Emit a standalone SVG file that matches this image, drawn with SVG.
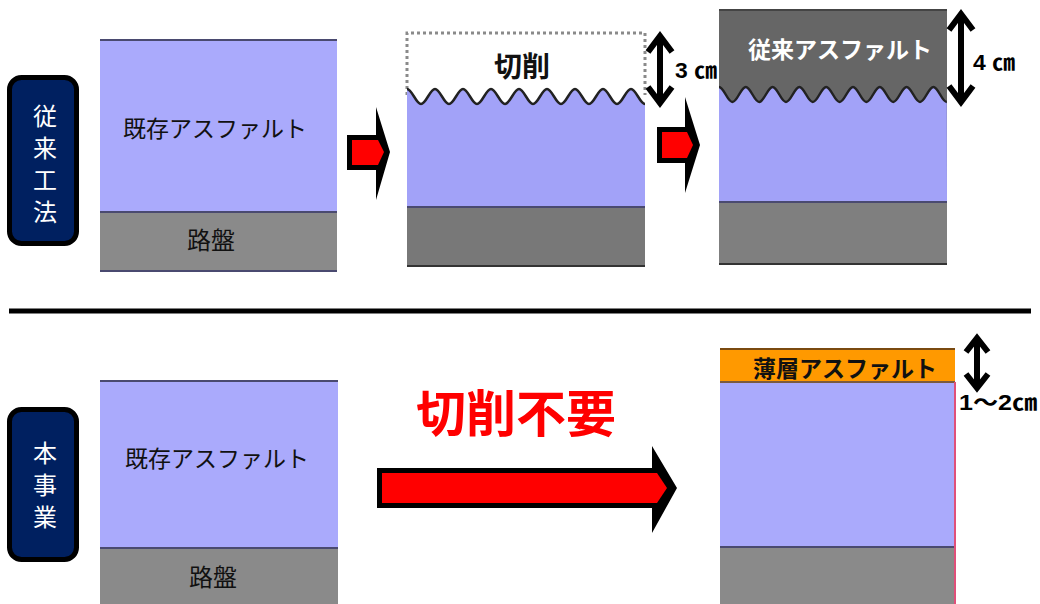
<svg xmlns="http://www.w3.org/2000/svg" width="1040" height="604" viewBox="0 0 1040 604">
<style>
.jp{font-family:"Noto Sans CJK JP","Noto Sans CJK SC",sans-serif}
.lbl{fill:#002060;stroke:#000;stroke-width:5}
.lt{fill:#fff;font-size:24px;text-anchor:middle;writing-mode:vertical-rl;letter-spacing:8px}
.asp{fill:#aaaafc}
.base{fill:#8a8a8a}
.edge{stroke:#4a4a70;stroke-width:2;fill:none}
.t1{font-size:23px;fill:#111;text-anchor:middle;dominant-baseline:central}
.b{font-weight:bold}
.wave{fill:none;stroke:#222;stroke-width:2.5}
.dbl{fill:none;stroke:#000;stroke-width:6;stroke-linejoin:miter}
.dim{font-family:"Liberation Sans","Noto Sans CJK JP",sans-serif;font-weight:bold;font-size:22px;dominant-baseline:central}
</style>
<rect width="1040" height="604" fill="#fff"/>

<g id="label-conventional">
<rect class="lbl" x="9.5" y="77.5" width="67" height="166" rx="12"/>
<text class="jp lt" x="45" y="168">従来工法</text>
</g>

<g id="block-existing-top">
<rect class="asp" x="100" y="39" width="237" height="173"/>
<rect class="base" x="100" y="212" width="237" height="60"/>
<line class="edge" x1="100" y1="40" x2="337" y2="40"/>
<line class="edge" x1="100" y1="212" x2="337" y2="212"/>
<line class="edge" x1="100" y1="271" x2="337" y2="271"/>
<text class="jp t1" x="215" y="127">既存アスファルト</text>
<text class="jp t1" x="211" y="238" style="font-size:24px">路盤</text>
</g>

<g id="block-cut">
<path d="M407,95 L407,33 L645,33 L645,95" fill="#fff" stroke="#8a8a8a" stroke-width="3" stroke-dasharray="3 3"/>
<path fill="#a2a2f8" d="M407,89 c5,0 9,15 14,15 c5,0 9,-15 14,-15 c5,0 9,15 14,15 c5,0 9,-15 14,-15 c5,0 9,15 14,15 c5,0 9,-15 14,-15 c5,0 9,15 14,15 c5,0 9,-15 14,-15 c5,0 9,15 14,15 c5,0 9,-15 14,-15 c5,0 9,15 14,15 c5,0 9,-15 14,-15 c5,0 9,15 14,15 c5,0 9,-15 14,-15 c5,0 9,15 14,15 c5,0 9,-15 14,-15 c5,0 9,15 14,15 L645,207 L407,207 Z"/>
<path class="wave" d="M407,89 c5,0 9,15 14,15 c5,0 9,-15 14,-15 c5,0 9,15 14,15 c5,0 9,-15 14,-15 c5,0 9,15 14,15 c5,0 9,-15 14,-15 c5,0 9,15 14,15 c5,0 9,-15 14,-15 c5,0 9,15 14,15 c5,0 9,-15 14,-15 c5,0 9,15 14,15 c5,0 9,-15 14,-15 c5,0 9,15 14,15 c5,0 9,-15 14,-15 c5,0 9,15 14,15 c5,0 9,-15 14,-15 c5,0 9,15 14,15"/>
<rect x="407" y="207" width="238" height="60" fill="#787878"/>
<line class="edge" x1="407" y1="207" x2="645" y2="207"/>
<line x1="407" y1="266" x2="645" y2="266" stroke="#333" stroke-width="2"/>
<text class="jp t1 b" x="522" y="65" style="font-size:28px">切削</text>
</g>

<g id="block-conventional">
<rect x="719" y="9" width="228" height="256" fill="#666"/>
<path fill="#a2a2f8" d="M719,87 c4.8,0 8.6,15 13.4,15 c4.8,0 8.6,-15 13.4,-15 c4.8,0 8.6,15 13.4,15 c4.8,0 8.6,-15 13.4,-15 c4.8,0 8.6,15 13.4,15 c4.8,0 8.6,-15 13.4,-15 c4.8,0 8.6,15 13.4,15 c4.8,0 8.6,-15 13.4,-15 c4.8,0 8.6,15 13.4,15 c4.8,0 8.6,-15 13.4,-15 c4.8,0 8.6,15 13.4,15 c4.8,0 8.6,-15 13.4,-15 c4.8,0 8.6,15 13.4,15 c4.8,0 8.6,-15 13.4,-15 c4.8,0 8.6,15 13.4,15 c4.8,0 8.6,-15 13.4,-15 c4.8,0 8.6,15 13.4,15 L947,202 L719,202 Z"/>
<path class="wave" d="M719,87 c4.8,0 8.6,15 13.4,15 c4.8,0 8.6,-15 13.4,-15 c4.8,0 8.6,15 13.4,15 c4.8,0 8.6,-15 13.4,-15 c4.8,0 8.6,15 13.4,15 c4.8,0 8.6,-15 13.4,-15 c4.8,0 8.6,15 13.4,15 c4.8,0 8.6,-15 13.4,-15 c4.8,0 8.6,15 13.4,15 c4.8,0 8.6,-15 13.4,-15 c4.8,0 8.6,15 13.4,15 c4.8,0 8.6,-15 13.4,-15 c4.8,0 8.6,15 13.4,15 c4.8,0 8.6,-15 13.4,-15 c4.8,0 8.6,15 13.4,15 c4.8,0 8.6,-15 13.4,-15 c4.8,0 8.6,15 13.4,15"/>
<rect x="719" y="202" width="228" height="63" fill="#7f7f7f"/>
<line class="edge" x1="719" y1="202" x2="947" y2="202"/>
<line x1="719" y1="10" x2="947" y2="10" stroke="#444" stroke-width="2"/>
<line x1="719" y1="264" x2="947" y2="264" stroke="#333" stroke-width="2"/>
<text class="jp t1 b" x="840" y="48" style="fill:#fff">従来アスファルト</text>
</g>

<line id="divider" x1="9" y1="311" x2="1031" y2="311" stroke="#000" stroke-width="5"/>

<g id="label-project">
<rect class="lbl" x="9.5" y="409.5" width="67" height="150" rx="12"/>
<text class="jp lt" x="45" y="489">本事業</text>
</g>

<g id="block-existing-bottom">
<rect class="asp" x="100" y="380" width="238" height="168"/>
<rect class="base" x="100" y="548" width="238" height="56"/>
<line class="edge" x1="100" y1="381" x2="338" y2="381"/>
<line class="edge" x1="100" y1="548" x2="338" y2="548"/>
<text class="jp t1" x="217" y="457">既存アスファルト</text>
<text class="jp t1" x="213" y="575" style="font-size:24px">路盤</text>
</g>

<g id="block-thin">
<rect x="720" y="348" width="235" height="34" fill="#ff9900"/>
<rect class="asp" x="720" y="382" width="235" height="165"/>
<rect class="base" x="720" y="547" width="235" height="57"/>
<line x1="720" y1="349" x2="955" y2="349" stroke="#7a4a10" stroke-width="2"/>
<line x1="720" y1="382" x2="955" y2="382" stroke="#7a5a40" stroke-width="2"/>
<line class="edge" x1="720" y1="547" x2="955" y2="547"/>
<line x1="955" y1="382" x2="955" y2="604" stroke="#e0507a" stroke-width="2"/>
<text class="jp t1 b" x="845" y="367">薄層アスファルト</text>
</g>

<text id="no-cut" class="jp b" x="516" y="410" text-anchor="middle" dominant-baseline="central" font-size="50" fill="#ff0000">切削不要</text>

<g id="connectors">
<polygon points="347,135 376,135 376,107 390,152 376,200 376,170 347,170" fill="#000"/>
<polygon points="352,140 378,140 384,152 378,165 352,165" fill="#ff0000"/>
<polygon points="657,127 685,127 685,97 700,145 685,193 685,163 657,163" fill="#000"/>
<polygon points="662,132 687,132 693,145 687,158 662,158" fill="#ff0000"/>
<polygon points="377,468 652,468 652,446 677,488 652,533 652,508 377,508" fill="#000"/>
<polygon points="382,473 657,473 667,488 657,503 382,503" fill="#ff0000"/>
<path class="dbl" d="M660,36 L660,103 M648,52 L660,36 L672,52 M648,87 L660,103 L672,87"/>
<path class="dbl" d="M961,14 L961,102 M949,30 L961,14 L973,30 M949,86 L961,102 L973,86"/>
<path class="dbl" d="M977,338 L977,388 M966,352 L977,338 L988,352 M966,374 L977,388 L988,374"/>
</g>

<g id="dimensions">
<text class="dim" x="675" y="70" textLength="42" lengthAdjust="spacingAndGlyphs">3 ㎝</text>
<text class="dim" x="973" y="62" textLength="42" lengthAdjust="spacingAndGlyphs">4 ㎝</text>
<text class="dim" x="959" y="402" textLength="78" lengthAdjust="spacingAndGlyphs">1～2㎝</text>
</g>
</svg>
